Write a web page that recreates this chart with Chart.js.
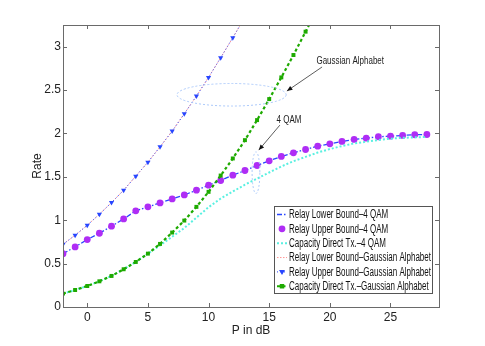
<!DOCTYPE html>
<html><head><meta charset="utf-8">
<script src="https://cdn.jsdelivr.net/npm/chart.js@4/dist/chart.umd.min.js"></script>
<style>html,body{margin:0;padding:0;background:#fff}#wrap{width:485px;height:346px}</style>
</head><body><div id="wrap"><canvas id="c" width="485" height="346"></canvas></div>
<script>
const xTicks = [0, 5, 10, 15, 20, 25];
const yTicks = [0, 0.5, 1, 1.5, 2, 2.5, 3];
const pQam = [-2,-1,0,1,2,3,4,5,6,7,8,9,10,11,12,13,14,15,16,17,18,19,20,21,22,23,24,25,26,27,28];
const relayLowerQam = [0.615,0.692,0.777,0.85,0.931,1.015,1.108,1.154,1.2,1.246,1.292,1.346,1.404,1.458,1.519,1.573,1.631,1.685,1.735,1.777,1.815,1.854,1.881,1.908,1.931,1.946,1.962,1.969,1.977,1.985,1.988];
const relayUpperQam = [0.615,0.692,0.777,0.85,0.931,1.015,1.108,1.154,1.2,1.246,1.292,1.346,1.404,1.458,1.519,1.573,1.631,1.685,1.735,1.777,1.815,1.854,1.881,1.908,1.931,1.946,1.962,1.969,1.977,1.985,1.988];
const directQam = [0.154,0.196,0.242,0.296,0.358,0.435,0.519,0.615,0.71,0.81,0.91,1.03,1.15,1.25,1.33,1.41,1.48,1.55,1.62,1.68,1.73,1.78,1.82,1.855,1.885,1.905,1.925,1.94,1.95,1.955,1.96];
const pGauss = [-2,-1,0,1,2,3,4,5,6,7,8,9,10,11,12,13];
const relayLowerGauss = [0.723,0.827,0.942,1.069,1.204,1.346,1.508,1.669,1.846,2.027,2.227,2.431,2.646,2.873,3.104,3.34];
const relayUpperGauss = [0.723,0.827,0.942,1.069,1.204,1.346,1.508,1.669,1.846,2.027,2.227,2.431,2.646,2.873,3.104,3.34];
const pDirect = [-2,-1,0,1,2,3,4,5,6,7,8,9,10,11,12,13,14,15,16,17,18,19];
const directGauss = [0.154,0.196,0.242,0.296,0.358,0.435,0.519,0.615,0.727,0.858,0.996,1.154,1.327,1.515,1.712,1.923,2.154,2.396,2.646,2.904,3.173,3.44];
const seriesNames = ["Relay Lower Bound\u20134 QAM","Relay Upper Bound\u20134 QAM","Capacity Direct Tx.\u20134 QAM","Relay Lower Bound\u2013Gaussian Alphabet","Relay Upper Bound\u2013Gaussian Alphabet","Capacity Direct Tx.\u2013Gaussian Alphabet"];

const FONT = "'Liberation Sans',Arial,sans-serif";
const pts = (xs, ys) => xs.map((x, i) => ({x, y: ys[i]}));
const BLUE = 'rgb(40,70,255)', MAG = 'rgb(175,45,245)', CYAN = 'rgb(90,240,225)', PINK = 'rgb(255,150,150)', GREEN = 'rgb(30,170,0)';

const datasets = [
  {label: seriesNames[0], data: pts(pQam, relayLowerQam), borderColor: BLUE, borderWidth: 1.3, borderDash: [5,2,1.5,2], pointRadius: 0, showLine: true},
  {label: seriesNames[1], data: pts(pQam, relayUpperQam), borderColor: MAG, backgroundColor: MAG, showLine: false, pointStyle: 'circle', pointRadius: 3.4, pointBorderWidth: 0},
  {label: seriesNames[2], data: pts(pQam, directQam), borderColor: CYAN, borderWidth: 2, borderDash: [2,2], pointRadius: 0, showLine: true},
  {label: seriesNames[3], data: pts(pGauss, relayLowerGauss), borderColor: PINK, borderWidth: 1, borderDash: [1.5,1.5], pointRadius: 0, showLine: true},
  {label: seriesNames[4], data: pts(pGauss, relayUpperGauss), borderColor: BLUE, backgroundColor: BLUE, borderWidth: 1, borderDash: [1,2.5], pointStyle: 'triangle', rotation: 180, pointRadius: 3, pointBorderWidth: 0, showLine: true},
  {label: seriesNames[5], data: pts(pDirect, directGauss), borderColor: GREEN, backgroundColor: GREEN, borderWidth: 2.2, borderDash: [3,2.5], pointStyle: 'rect', pointRadius: 2.8, pointBorderWidth: 0, showLine: true},
].map((d, i) => Object.assign({order: 6 - i, clip: 0, tension: 0, fill: false}, d));

const annotations = {
  ellipses: [{cx: 11.9, cy: 2.446, rx: 4.5, ry: 0.13}, {cx: 13.91, cy: 1.548, rx: 0.32, ry: 0.24}],
  arrows: [{x1: 19.36, y1: 2.766, x2: 16.46, y2: 2.489}, {x1: 15.88, y1: 2.096, x2: 14.14, y2: 1.808}],
  texts: [{x: 21.68, y: 2.835, t: 'Gaussian Alphabet'}, {x: 16.63, y: 2.154, t: '4 QAM'}]
};

function narrowText(ctx, text, x, y, sx) {
  ctx.save(); ctx.translate(x, y); ctx.scale(sx, 1); ctx.fillText(text, 0, 0); ctx.restore();
}

const framePlugin = {
  id: 'frame',
  afterDatasetsDraw(chart) {
    const {ctx, chartArea: a, scales: {x, y}} = chart;
    ctx.save();
    ctx.strokeStyle = 'rgb(170,200,250)'; ctx.lineWidth = 1; ctx.setLineDash([2,2]);
    annotations.ellipses.forEach(e => {
      const cx = x.getPixelForValue(e.cx), cy = y.getPixelForValue(e.cy);
      const rx = Math.abs(x.getPixelForValue(e.cx + e.rx) - cx), ry = Math.abs(y.getPixelForValue(e.cy + e.ry) - cy);
      ctx.beginPath(); ctx.ellipse(cx, cy, rx, ry, 0, 0, Math.PI * 2); ctx.stroke();
    });
    ctx.setLineDash([]); ctx.strokeStyle = '#333'; ctx.fillStyle = '#111'; ctx.lineWidth = 0.8;
    annotations.arrows.forEach(r => {
      const x1 = x.getPixelForValue(r.x1), y1 = y.getPixelForValue(r.y1), x2 = x.getPixelForValue(r.x2), y2 = y.getPixelForValue(r.y2);
      ctx.beginPath(); ctx.moveTo(x1, y1); ctx.lineTo(x2, y2); ctx.stroke();
      const ang = Math.atan2(y2 - y1, x2 - x1), L = 6, W = 0.4;
      ctx.beginPath(); ctx.moveTo(x2, y2);
      ctx.lineTo(x2 - L * Math.cos(ang - W), y2 - L * Math.sin(ang - W));
      ctx.lineTo(x2 - L * Math.cos(ang + W), y2 - L * Math.sin(ang + W));
      ctx.closePath(); ctx.fill();
    });
    ctx.font = '10px ' + FONT; ctx.textAlign = 'center'; ctx.textBaseline = 'middle'; ctx.fillStyle = '#222';
    annotations.texts.forEach(t => narrowText(ctx, t.t, x.getPixelForValue(t.x), y.getPixelForValue(t.y), 0.8));
    ctx.strokeStyle = '#6a6a6a'; ctx.lineWidth = 1;
    ctx.strokeRect(Math.round(a.left) + 0.5, Math.round(a.top) + 0.5, Math.round(a.right - a.left), Math.round(a.bottom - a.top));
    ctx.beginPath();
    xTicks.forEach(v => { const px = Math.round(x.getPixelForValue(v)) + 0.5; ctx.moveTo(px, a.bottom); ctx.lineTo(px, a.bottom - 4); ctx.moveTo(px, a.top); ctx.lineTo(px, a.top + 4); });
    yTicks.forEach(v => { const py = Math.round(y.getPixelForValue(v)) + 0.5; ctx.moveTo(a.left, py); ctx.lineTo(a.left + 4, py); ctx.moveTo(a.right, py); ctx.lineTo(a.right - 4, py); });
    ctx.stroke();
    // legend
    const lx = 274.5, ly = 206.5, lw = 158, lh = 87;
    ctx.fillStyle = '#fff'; ctx.fillRect(lx, ly, lw, lh);
    ctx.strokeStyle = '#555'; ctx.strokeRect(lx, ly, lw, lh);
    ctx.font = '12px ' + FONT; ctx.textAlign = 'left'; ctx.textBaseline = 'middle';
    const widest = Math.max(...chart.data.datasets.map(d => ctx.measureText(d.label).width));
    const sx = 142 / widest;
    chart.data.datasets.forEach((d, i) => {
      const ry = 214.5 + i * 14.35;
      if (d.showLine) {
        ctx.save(); ctx.strokeStyle = d.borderColor; ctx.lineWidth = d.borderWidth; ctx.setLineDash(d.borderDash || []);
        ctx.beginPath(); ctx.moveTo(277, ry); ctx.lineTo(287, ry); ctx.stroke(); ctx.restore();
      }
      if (d.pointRadius > 0) {
        const cx = 282, r = d.pointRadius; ctx.fillStyle = d.backgroundColor;
        ctx.beginPath();
        if (d.pointStyle === 'circle') ctx.arc(cx, ry, r, 0, Math.PI * 2);
        else if (d.pointStyle === 'rect') ctx.rect(cx - r * 0.8, ry - r * 0.8, r * 1.6, r * 1.6);
        else { ctx.moveTo(cx - r, ry - r * 0.6); ctx.lineTo(cx + r, ry - r * 0.6); ctx.lineTo(cx, ry + r); ctx.closePath(); }
        ctx.fill();
      }
      ctx.fillStyle = '#111';
      narrowText(ctx, d.label, 289, ry + 0.5, sx);
    });
    ctx.restore();
  }
};

new Chart(document.getElementById('c'), {
  type: 'scatter',
  data: {datasets},
  options: {
    responsive: false, animation: false, devicePixelRatio: 1,
    layout: {padding: {left: 0, right: 46, top: 25, bottom: 0}},
    plugins: {legend: {display: false}, tooltip: {enabled: false}},
    scales: {
      x: {
        type: 'linear', min: -2, max: 29,
        afterBuildTicks: s => { s.ticks = xTicks.map(v => ({value: v})); },
        afterFit: s => { s.height = 39; },
        grid: {display: false, drawTicks: false}, border: {display: false},
        ticks: {font: {family: FONT, size: 12}, color: '#222', padding: 3, maxRotation: 0, callback: v => String(v)},
        title: {display: true, text: 'P in dB', font: {family: FONT, size: 12}, color: '#222', padding: {top: 0, bottom: 8}}
      },
      y: {
        type: 'linear', min: 0, max: 3.25,
        afterBuildTicks: s => { s.ticks = yTicks.map(v => ({value: v})); },
        afterFit: s => { s.width = 63; },
        grid: {display: false, drawTicks: false}, border: {display: false},
        ticks: {font: {family: FONT, size: 12}, color: '#222', padding: 2, callback: v => String(v)},
        title: {display: true, text: 'Rate', font: {family: FONT, size: 12}, color: '#222', padding: {top: 30, bottom: 0}}
      }
    }
  },
  plugins: [framePlugin]
});
</script></body></html>
